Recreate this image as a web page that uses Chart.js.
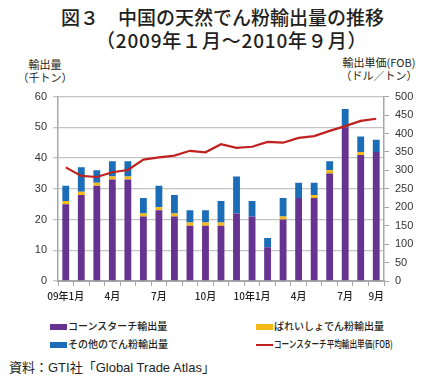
<!DOCTYPE html>
<html>
<head>
<meta charset="utf-8">
<script src="https://cdn.jsdelivr.net/npm/chart.js@4"></script>
<style>
  body { margin: 0; background: #fff; font-family: "Noto Sans CJK JP", sans-serif; color: #222; }
  #wrap { position: relative; width: 425px; height: 384px; overflow: hidden; }
  .t { position: absolute; white-space: nowrap; }
  .title { font-size: 19px; line-height: 22px; color: #231f20; font-weight: 500; }
  .axt { font-size: 11px; line-height: 13px; text-align: center; color: #231f20; }
  #chartbox { position: absolute; left: 0; top: 84px; width: 425px; height: 227px; }
  .leg { position: absolute; font-size: 10px; line-height: 12px; color: #231f20; font-weight: 500; white-space: nowrap; }
  .leg i { position: absolute; left: 0; display: block; width: 17px; }
  .src { font-size: 13px; line-height: 15px; color: #231f20; font-family: "Liberation Sans", "Noto Sans CJK JP", sans-serif; }
</style>
</head>
<body>
<div id="wrap">
  <div class="t title" style="left:61px; top:6px;">図３　中国の天然でん粉輸出量の推移</div>
  <div class="t title" style="left:96px; top:29px; letter-spacing:0.8px;">（2009年１月～2010年９月）</div>
  <div class="t axt" style="left:16px; top:58px; width:58px;">輸出量<br>（千トン）</div>
  <div class="t axt" style="left:334px; top:56px; width:90px;">輸出単価(FOB)<br>（ドル／トン）</div>
  <div id="chartbox"><canvas id="chart"></canvas></div>
  <div id="legend"></div>
  <div class="t src" style="left:9px; top:360px;">資料：GTI社「Global Trade Atlas」</div>
</div>
<script>
const months = ['09-1','09-2','09-3','09-4','09-5','09-6','09-7','09-8','09-9','09-10','09-11','09-12',
                '10-1','10-2','10-3','10-4','10-5','10-6','10-7','10-8','10-9'];
const tickLabels = ['09年1月','','','4月','','','7月','','','10月','','','10年1月','','','4月','','','7月','','9月'];

// 千トン
const cornstarch = [25, 28, 31, 33, 33, 21, 23, 21, 18, 18, 18, 22, 21, 11, 20, 27, 27, 35, 50, 41, 42];
const potato     = [1, 1, 1, 1, 1, 1, 1, 1, 1, 1, 1, 0, 0, 0, 1, 0, 1, 1, 0, 1, 0];
const otherStarch = [5, 8, 4, 5, 5, 5, 7, 6, 4, 4, 7, 12, 5, 3, 6, 5, 4, 3, 6, 5, 4];
// ドル／トン
const cornPrice = [308, 285, 282, 295, 301, 329, 335, 340, 353, 349, 371, 361, 364, 377, 375, 388, 393, 407, 420, 434, 440];

const seriesNames = ['コーンスターチ輸出量', 'ばれいしょでん粉輸出量', 'その他のでん粉輸出量', 'コーンスターチ平均輸出単価(FOB)'];
const leftTicks = [0, 10, 20, 30, 40, 50, 60];
const rightTicks = [0, 50, 100, 150, 200, 250, 300, 350, 400, 450, 500];

const colors = ['#663391', '#f5b819', '#1a6db6', '#c0201e'];

const tickFont = { family: 'Liberation Sans', size: 11 };

const barSet = (i, data) => ({
  type: 'bar',
  label: seriesNames[i],
  data: data,
  backgroundColor: colors[i],
  stack: 's',
  yAxisID: 'y',
  order: 1,
  barPercentage: 0.44,
  categoryPercentage: 1
});

new Chart(document.getElementById('chart'), {
  data: {
    labels: months,
    datasets: [
      barSet(0, cornstarch),
      barSet(1, potato),
      barSet(2, otherStarch),
      {
        type: 'line',
        label: seriesNames[3],
        data: cornPrice,
        borderColor: colors[3],
        borderWidth: 2.2,
        pointRadius: 0,
        tension: 0,
        yAxisID: 'y1',
        order: 0
      }
    ]
  },
  options: {
    responsive: true,
    maintainAspectRatio: false,
    animation: false,
    layout: { padding: { top: 10, left: 0, right: 0, bottom: 0 } },
    plugins: { legend: { display: false }, tooltip: { enabled: false } },
    scales: {
      x: {
        stacked: true,
        offset: true,
        grid: { offset: true, drawOnChartArea: false, color: '#a8a8a8', tickLength: 5 },
        border: { color: '#a8a8a8', width: 2 },
        ticks: {
          autoSkip: false, maxRotation: 0, padding: 4,
          color: '#231f20',
          font: { family: 'Noto Sans CJK JP', size: 10, weight: '500' },
          callback: (v, i) => tickLabels[i]
        },
        afterFit: s => { s.height = 30; }
      },
      y: {
        stacked: true,
        position: 'left',
        min: 0, max: 60,
        afterBuildTicks: s => { s.ticks = leftTicks.map(v => ({ value: v })); },
        grid: { color: '#c4c4c4', lineWidth: 1.3, tickLength: 5 },
        border: { color: '#a8a8a8', width: 1.5 },
        ticks: { color: '#333', font: tickFont, padding: 6 },
        afterFit: s => { s.width = 58; }
      },
      y1: {
        position: 'right',
        min: 0, max: 500,
        afterBuildTicks: s => { s.ticks = rightTicks.map(v => ({ value: v })); },
        grid: { drawOnChartArea: false, color: '#a8a8a8', tickLength: 5 },
        border: { color: '#a8a8a8', width: 1.5 },
        ticks: { color: '#333', font: tickFont, padding: 6 },
        afterFit: s => { s.width = 41; }
      }
    }
  }
});

// legend, 2 x 2
const legendPos = [[50, 320], [256, 320], [50, 338], [256, 338]];
const legend = document.getElementById('legend');
seriesNames.forEach((name, i) => {
  const d = document.createElement('div');
  d.className = 'leg';
  d.style.left = legendPos[i][0] + 'px';
  d.style.top = legendPos[i][1] + 'px';
  d.style.paddingLeft = '18px';
  const box = document.createElement('i');
  box.style.background = colors[i];
  box.style.height = i === 3 ? '2px' : '6px';
  box.style.top = i === 3 ? '6px' : '4px';
  d.appendChild(box);
  const s = document.createElement('span');
  s.textContent = name;
  if (i === 3) {
    s.style.display = 'inline-block';
    s.style.transform = 'scaleX(0.76)';
    s.style.transformOrigin = 'left center';
  }
  d.appendChild(s);
  legend.appendChild(d);
});
</script>
</body>
</html>
